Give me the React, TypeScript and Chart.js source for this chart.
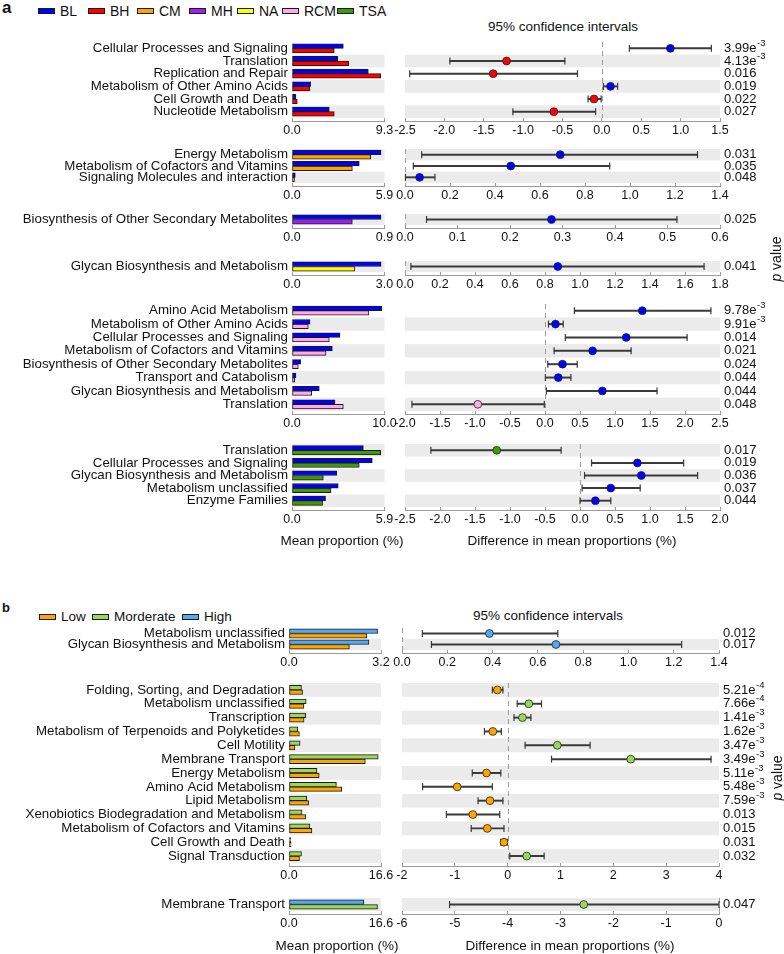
import React, { useEffect, useRef } from 'react';
import { Chart, registerables } from 'chart.js';

Chart.register(...registerables);

const FONT = '"Liberation Sans", Arial, Helvetica, sans-serif';
Chart.defaults.font.family = FONT;

// ================= Panel a =================
const A_GROUPS = ['BL', 'BH', 'CM', 'MH', 'NA', 'RCM', 'TSA'];

const A1_CATS = ['Cellular Processes and Signaling', 'Translation', 'Replication and Repair', 'Metabolism of Other Amino Acids', 'Cell Growth and Death', 'Nucleotide Metabolism'];
const A1_BL = [5.16, 4.6, 7.67, 1.88, 0.4, 3.75];
const A1_BH = [4.25, 5.7, 8.92, 1.81, 0.53, 4.25];
const A1_DIFF = [0.87, -1.21, -1.38, 0.11, -0.1, -0.61];
const A1_LO = [0.35, -1.93, -2.44, 0.02, -0.175, -1.13];
const A1_HI = [1.39, -0.47, -0.31, 0.2, -0.01, -0.08];
const A1_P = ['3.99e-3', '4.13e-3', '0.016', '0.019', '0.022', '0.027'];
const A1_BAR_TICKS = [0, 9.3];
const A1_CI_TICKS = [-2.5, -2, -1.5, -1, -0.5, 0, 0.5, 1, 1.5];

const A2_CATS = ['Energy Metabolism', 'Metabolism of Cofactors and Vitamins', 'Signaling Molecules and interaction'];
const A2_BL = [5.68, 4.29, 0.21];
const A2_CM = [5.02, 3.85, 0.16];
const A2_DIFF = [0.69, 0.47, 0.065];
const A2_LO = [0.074, 0.037, 0.002];
const A2_HI = [1.3, 0.91, 0.133];
const A2_P = ['0.031', '0.035', '0.048'];
const A2_BAR_TICKS = [0, 5.9];
const A2_CI_TICKS = [0, 0.2, 0.4, 0.6, 0.8, 1.0, 1.2, 1.4];

const A3_CATS = ['Biosynthesis of Other Secondary Metabolites'];
const A3_BL = [0.866];
const A3_MH = [0.587];
const A3_DIFF = [0.279];
const A3_LO = [0.041];
const A3_HI = [0.518];
const A3_P = ['0.025'];
const A3_BAR_TICKS = [0, 0.9];
const A3_CI_TICKS = [0, 0.1, 0.2, 0.3, 0.4, 0.5, 0.6];

const A4_CATS = ['Glycan Biosynthesis and Metabolism'];
const A4_BL = [2.89];
const A4_NA = [2.04];
const A4_DIFF = [0.873];
const A4_LO = [0.034];
const A4_HI = [1.709];
const A4_P = ['0.041'];
const A4_BAR_TICKS = [0, 3.0];
const A4_CI_TICKS = [0, 0.2, 0.4, 0.6, 0.8, 1.0, 1.2, 1.4, 1.6, 1.8];

const A5_CATS = ['Amino Acid Metabolism', 'Metabolism of Other Amino Acids', 'Cellular Processes and Signaling', 'Metabolism of Cofactors and Vitamins', 'Biosynthesis of Other Secondary Metabolites', 'Transport and Catabolism', 'Glycan Biosynthesis and Metabolism', 'Translation'];
const A5_BL = [9.7, 1.95, 5.19, 4.36, 0.94, 0.43, 2.95, 4.65];
const A5_RCM = [8.32, 1.76, 4.03, 3.68, 0.68, 0.29, 2.13, 5.55];
const A5_DIFF = [1.39, 0.15, 1.16, 0.68, 0.25, 0.19, 0.82, -0.96];
const A5_LO = [0.42, 0.05, 0.29, 0.13, 0.04, 0.005, 0.02, -1.9];
const A5_HI = [2.37, 0.26, 2.03, 1.23, 0.46, 0.37, 1.6, -0.01];
const A5_P = ['9.78e-3', '9.91e-3', '0.014', '0.021', '0.024', '0.044', '0.044', '0.048'];
const A5_BAR_TICKS = [0, 10.0];
const A5_CI_TICKS = [-2, -1.5, -1, -0.5, 0, 0.5, 1, 1.5, 2, 2.5];

const A6_CATS = ['Translation', 'Cellular Processes and Signaling', 'Glycan Biosynthesis and Metabolism', 'Metabolism unclassified', 'Enzyme Families'];
const A6_BL = [4.55, 5.12, 2.85, 2.95, 2.14];
const A6_TSA = [5.66, 4.29, 2.0, 2.49, 1.95];
const A6_DIFF = [-1.19, 0.82, 0.876, 0.44, 0.22];
const A6_LO = [-2.13, 0.165, 0.065, 0.03, 0.0];
const A6_HI = [-0.27, 1.48, 1.68, 0.86, 0.44];
const A6_P = ['0.017', '0.019', '0.036', '0.037', '0.044'];
const A6_BAR_TICKS = [0, 5.9];
const A6_CI_TICKS = [-2.5, -2, -1.5, -1, -0.5, 0, 0.5, 1, 1.5, 2];

// ================= Panel b =================
const B_GROUPS = ['Low', 'Morderate', 'High'];

const B1_CATS = ['Metabolism unclassified', 'Glycan Biosynthesis and Metabolism'];
const B1_HIGH = [3.08, 2.78];
const B1_LOW = [2.7, 2.1];
const B1_DIFF = [0.386, 0.68];
const B1_LO = [0.09, 0.13];
const B1_HI = [0.688, 1.235];
const B1_P = ['0.012', '0.017'];
const B1_BAR_TICKS = [0, 3.2];
const B1_CI_TICKS = [0, 0.2, 0.4, 0.6, 0.8, 1.0, 1.2, 1.4];

const B2_CATS = ['Folding, Sorting, and Degradation', 'Metabolism unclassified', 'Transcription', 'Metabolism of Terpenoids and Polyketides', 'Cell Motility', 'Membrane Transport', 'Energy Metabolism', 'Amino Acid Metabolism', 'Lipid Metabolism', 'Xenobiotics Biodegradation and Metabolism', 'Metabolism of Cofactors and Vitamins', 'Cell Growth and Death', 'Signal Transduction'];
const B2_MOD = [2.25, 3.1, 3.0, 1.6, 2.0, 16.1, 5.05, 8.55, 3.2, 2.35, 3.75, 0.3, 2.25];
const B2_LOW = [2.45, 2.7, 2.72, 1.88, 1.06, 13.77, 5.45, 9.5, 3.54, 3.0, 4.13, 0.37, 1.89];
const B2_DIFF = [-0.195, 0.4, 0.28, -0.28, 0.94, 2.33, -0.4, -0.955, -0.335, -0.66, -0.385, -0.07, 0.36];
const B2_LO = [-0.29, 0.18, 0.12, -0.44, 0.33, 0.83, -0.67, -1.61, -0.56, -1.16, -0.69, -0.13, 0.04];
const B2_HI = [-0.09, 0.64, 0.44, -0.12, 1.56, 3.85, -0.13, -0.29, -0.09, -0.15, -0.07, -0.005, 0.69];
const B2_P = ['5.21e-4', '7.66e-4', '1.41e-3', '1.62e-3', '3.47e-3', '3.49e-3', '5.11e-3', '5.48e-3', '7.59e-3', '0.013', '0.015', '0.031', '0.032'];
const B2_BAR_TICKS = [0, 16.6];
const B2_CI_TICKS = [-2, -1, 0, 1, 2, 3, 4];

const B3_CATS = ['Membrane Transport'];
const B3_HIGH = [13.53];
const B3_MOD = [15.97];
const B3_DIFF = [-2.56];
const B3_LO = [-5.1];
const B3_HI = [0.0];
const B3_P = ['0.047'];
const B3_BAR_TICKS = [0, 16.6];
const B3_CI_TICKS = [-6, -5, -4, -3, -2, -1, 0];

// ================= styling =================
const COLORS: Record<string, string> = {
  BL: '#0000FF', BH: '#FF0000', CM: '#FFA500', MH: '#A020F0', NA: '#FFFF00', RCM: '#FFAAE6', TSA: '#3F9A05',
  Low: '#FFA500', Morderate: '#9AD85C', High: '#55A8F2',
};
const TEXT = '#111111';
const STRIPE = '#ebebeb';
const AXIS = '#9a9a9a';
const TICK_FONT = { family: FONT, size: 12.5 };
const LABEL_FONT = { family: FONT, size: 13.3 };
const PAD_T = 14;
const AXIS_H = 26;
const TICK_LEN = 4;
const BAR_W = 400;
const CI_X = 382;
const CI_W = 784 - CI_X;

const PANEL_BOX: Record<string, any> = {
  a: { barL: 292, barR: 384.5, ciL: 405, ciR: 720 },
  b: { barL: 289, barR: 381, ciL: 402, ciR: 719 },
};

// group table (built from the arrays above)
const GROUPS = [
  { id: 'a1', panel: 'a', cats: A1_CATS, g1: 'BL', g2: 'BH', v1: A1_BL, v2: A1_BH, diff: A1_DIFF, lo: A1_LO, hi: A1_HI, p: A1_P, barTicks: A1_BAR_TICKS, ciTicks: A1_CI_TICKS, dec: 1 },
  { id: 'a2', panel: 'a', cats: A2_CATS, g1: 'BL', g2: 'CM', v1: A2_BL, v2: A2_CM, diff: A2_DIFF, lo: A2_LO, hi: A2_HI, p: A2_P, barTicks: A2_BAR_TICKS, ciTicks: A2_CI_TICKS, dec: 1 },
  { id: 'a3', panel: 'a', cats: A3_CATS, g1: 'BL', g2: 'MH', v1: A3_BL, v2: A3_MH, diff: A3_DIFF, lo: A3_LO, hi: A3_HI, p: A3_P, barTicks: A3_BAR_TICKS, ciTicks: A3_CI_TICKS, dec: 1 },
  { id: 'a4', panel: 'a', cats: A4_CATS, g1: 'BL', g2: 'NA', v1: A4_BL, v2: A4_NA, diff: A4_DIFF, lo: A4_LO, hi: A4_HI, p: A4_P, barTicks: A4_BAR_TICKS, ciTicks: A4_CI_TICKS, dec: 1 },
  { id: 'a5', panel: 'a', cats: A5_CATS, g1: 'BL', g2: 'RCM', v1: A5_BL, v2: A5_RCM, diff: A5_DIFF, lo: A5_LO, hi: A5_HI, p: A5_P, barTicks: A5_BAR_TICKS, ciTicks: A5_CI_TICKS, dec: 1 },
  { id: 'a6', panel: 'a', cats: A6_CATS, g1: 'BL', g2: 'TSA', v1: A6_BL, v2: A6_TSA, diff: A6_DIFF, lo: A6_LO, hi: A6_HI, p: A6_P, barTicks: A6_BAR_TICKS, ciTicks: A6_CI_TICKS, dec: 1 },
  { id: 'b1', panel: 'b', cats: B1_CATS, g1: 'High', g2: 'Low', v1: B1_HIGH, v2: B1_LOW, diff: B1_DIFF, lo: B1_LO, hi: B1_HI, p: B1_P, barTicks: B1_BAR_TICKS, ciTicks: B1_CI_TICKS, dec: 1 },
  { id: 'b2', panel: 'b', cats: B2_CATS, g1: 'Morderate', g2: 'Low', v1: B2_MOD, v2: B2_LOW, diff: B2_DIFF, lo: B2_LO, hi: B2_HI, p: B2_P, barTicks: B2_BAR_TICKS, ciTicks: B2_CI_TICKS, dec: 0 },
  { id: 'b3', panel: 'b', cats: B3_CATS, g1: 'High', g2: 'Morderate', v1: B3_HIGH, v2: B3_MOD, diff: B3_DIFF, lo: B3_LO, hi: B3_HI, p: B3_P, barTicks: B3_BAR_TICKS, ciTicks: B3_CI_TICKS, dec: 0 },
];

// vertical placement of each group's plotting area [top, bottom]
const PLACE: Record<string, number[]> = {
  a1: [42, 118], a2: [149, 183], a3: [214, 225], a4: [261, 272], a5: [304, 411], a6: [444, 507],
  b1: [628, 650], b2: [683, 863], b3: [898, 911],
};

// ================= plugins =================
const stripes = {
  id: 'stripes',
  beforeDraw(chart: any) {
    const { ctx, chartArea: a } = chart;
    const ys = chart.scales.y;
    const n = chart.data.labels.length;
    const h = (a.bottom - a.top) / n;
    ctx.save();
    ctx.fillStyle = STRIPE;
    for (let i = 0; i < n; i++) {
      if ((n - 1 - i) % 2 === 0) {
        const c = ys.getPixelForValue(i);
        ctx.fillRect(a.left, c - h / 2, a.right - a.left, h);
      }
    }
    ctx.restore();
  },
};

const axisLine = {
  id: 'axisLine',
  afterDraw(chart: any) {
    const { ctx, chartArea: a } = chart;
    const xs = chart.scales.x;
    const y = Math.round(xs.top + TICK_LEN) - 0.5;
    ctx.save();
    ctx.strokeStyle = AXIS;
    ctx.lineWidth = 1;
    ctx.beginPath();
    ctx.moveTo(a.left, y);
    ctx.lineTo(a.right, y);
    ctx.stroke();
    ctx.restore();
  },
};

const zeroLine = {
  id: 'zeroLine',
  beforeDatasetsDraw(chart: any) {
    const { ctx, chartArea: a } = chart;
    const xs = chart.scales.x;
    if (xs.min > 0 || xs.max < 0) return;
    const px = Math.round(xs.getPixelForValue(0)) + 0.5;
    ctx.save();
    ctx.strokeStyle = '#9c9c9c';
    ctx.lineWidth = 1;
    ctx.setLineDash([5, 4]);
    ctx.beginPath();
    ctx.moveTo(px, a.top);
    ctx.lineTo(px, a.bottom);
    ctx.stroke();
    ctx.restore();
  },
};

function pvalPlugin(labels: string[]) {
  return {
    id: 'pvals',
    afterDraw(chart: any) {
      const { ctx, chartArea: a } = chart;
      const ys = chart.scales.y;
      ctx.save();
      ctx.fillStyle = TEXT;
      ctx.textBaseline = 'middle';
      ctx.textAlign = 'left';
      labels.forEach((s, i) => {
        const y = ys.getPixelForValue(i);
        const x = a.right + 4;
        const m = /^(.*e)(-?\d+)$/.exec(s);
        ctx.font = `13px ${FONT}`;
        if (m) {
          ctx.fillText(m[1], x, y);
          const w = ctx.measureText(m[1]).width;
          ctx.font = `9.5px ${FONT}`;
          ctx.fillText(m[2], x + w + 0.5, y - 5);
        } else {
          ctx.fillText(s, x, y);
        }
      });
      ctx.restore();
    },
  };
}

function xAxis(ticksArr: number[], dec: number) {
  return {
    type: 'linear',
    min: ticksArr[0],
    max: ticksArr[ticksArr.length - 1],
    afterBuildTicks: (s: any) => {
      s.ticks = ticksArr.map((v) => ({ value: v }));
    },
    afterFit: (s: any) => {
      s.height = AXIS_H;
    },
    ticks: {
      callback: (v: any) => Number(v).toFixed(dec),
      padding: 1,
      maxRotation: 0,
      minRotation: 0,
      autoSkip: false,
      color: TEXT,
      font: TICK_FONT,
    },
    grid: { drawOnChartArea: false, drawTicks: true, tickLength: TICK_LEN, color: AXIS },
    border: { display: false },
  };
}

function makeBar(canvas: HTMLCanvasElement, g: any) {
  const box = PANEL_BOX[g.panel];
  const barStyle = { borderColor: '#1a1a1a', borderWidth: 1, borderSkipped: false, barThickness: 4.6 };
  return new Chart(canvas, {
    type: 'bar',
    data: {
      labels: g.cats,
      datasets: [
        { data: g.v1, backgroundColor: COLORS[g.g1], ...barStyle },
        { data: g.v2, backgroundColor: COLORS[g.g2], ...barStyle },
      ],
    },
    options: {
      indexAxis: 'y',
      animation: false,
      responsive: false,
      events: [],
      layout: { padding: { left: 0, right: BAR_W - box.barR, top: PAD_T, bottom: 0 } },
      plugins: { legend: { display: false }, tooltip: { enabled: false } },
      scales: {
        x: xAxis(g.barTicks, 1),
        y: {
          type: 'category',
          offset: true,
          afterFit: (s: any) => {
            s.width = box.barL;
          },
          ticks: { autoSkip: false, padding: 4, color: TEXT, font: LABEL_FONT },
          grid: { display: false, drawTicks: false },
          border: { display: false },
        },
      },
    } as any,
    plugins: [stripes, axisLine],
  } as any);
}

function makeCI(canvas: HTMLCanvasElement, g: any) {
  const box = PANEL_BOX[g.panel];
  const ptColors = g.diff.map((d: number) => COLORS[d >= 0 ? g.g1 : g.g2]);
  const caps = [
    ...g.lo.map((v: number, i: number) => ({ x: v, y: g.cats[i] })),
    ...g.hi.map((v: number, i: number) => ({ x: v, y: g.cats[i] })),
  ];
  return new Chart(canvas, {
    type: 'bar',
    data: {
      labels: g.cats,
      datasets: [
        {
          type: 'scatter',
          data: g.diff.map((d: number, i: number) => ({ x: d, y: g.cats[i] })),
          pointRadius: 3.9,
          pointBackgroundColor: ptColors,
          pointBorderColor: '#222',
          pointBorderWidth: 0.8,
          order: 0,
          clip: false,
        },
        {
          type: 'scatter',
          data: caps,
          pointStyle: 'line',
          pointRotation: 90,
          pointRadius: 3.5,
          pointBorderColor: '#3a3a3a',
          pointBorderWidth: 1.2,
          order: 1,
          clip: false,
        },
        {
          type: 'bar',
          data: g.lo.map((l: number, i: number) => [l, g.hi[i]]),
          backgroundColor: '#3a3a3a',
          borderWidth: 0,
          barThickness: 1.3,
          order: 2,
        },
      ],
    },
    options: {
      indexAxis: 'y',
      animation: false,
      responsive: false,
      events: [],
      layout: { padding: { left: box.ciL - CI_X, right: CI_X + CI_W - box.ciR, top: PAD_T, bottom: 0 } },
      plugins: { legend: { display: false }, tooltip: { enabled: false } },
      scales: {
        x: xAxis(g.ciTicks, g.dec),
        y: { type: 'category', display: false, offset: true },
      },
    } as any,
    plugins: [stripes, zeroLine, axisLine, pvalPlugin(g.p)],
  } as any);
}

function GroupPlot({ g }: { g: any }) {
  const barRef = useRef<HTMLCanvasElement>(null);
  const ciRef = useRef<HTMLCanvasElement>(null);
  const [t, b] = PLACE[g.id];
  const top = t - PAD_T;
  const h = b - t + PAD_T + AXIS_H;
  useEffect(() => {
    const c1 = makeBar(barRef.current as HTMLCanvasElement, g);
    const c2 = makeCI(ciRef.current as HTMLCanvasElement, g);
    return () => {
      c1.destroy();
      c2.destroy();
    };
  }, [g]);
  return (
    <>
      <canvas ref={barRef} width={BAR_W} height={h} style={{ position: 'absolute', left: 0, top, width: BAR_W, height: h }} />
      <canvas ref={ciRef} width={CI_W} height={h} style={{ position: 'absolute', left: CI_X, top, width: CI_W, height: h }} />
    </>
  );
}

const txt = (extra: any) => ({
  position: 'absolute' as const,
  fontFamily: FONT,
  color: TEXT,
  whiteSpace: 'nowrap' as const,
  lineHeight: 1,
  ...extra,
});

const centered = (cx: number, cy: number, size: number, extra: any = {}) =>
  txt({ left: cx, top: cy, fontSize: size, transform: 'translate(-50%, -50%)', ...extra });

function Legend({ names, xs, cy, size }: { names: string[]; xs: number[]; cy: number; size: number }) {
  return (
    <>
      {names.map((n, i) => (
        <React.Fragment key={n}>
          <div
            style={{
              position: 'absolute',
              left: xs[i],
              top: cy - 3,
              width: 17,
              height: 6,
              boxSizing: 'border-box',
              border: '1px solid #1a1a1a',
              background: COLORS[n],
            }}
          />
          <div style={txt({ left: xs[i] + 22, top: cy, fontSize: size, transform: 'translateY(-50%)' })}>{n}</div>
        </React.Fragment>
      ))}
    </>
  );
}

export default function App() {
  return (
    <div style={{ position: 'absolute', left: 0, top: 0, width: 784, height: 954, background: '#fff', overflow: 'hidden' }}>
      <div style={txt({ left: 2, top: -1, fontSize: 17, fontWeight: 'bold' })}>a</div>
      <Legend names={A_GROUPS} xs={[38, 88, 137, 189, 237, 282, 337]} cy={10.5} size={14} />
      <div style={centered(563, 27, 13.5)}>95% confidence intervals</div>

      <div style={txt({ left: 2, top: 601, fontSize: 13, fontWeight: 'bold' })}>b</div>
      <Legend names={B_GROUPS} xs={[39, 92, 182]} cy={617} size={13.5} />
      <div style={centered(548, 616, 13.5)}>95% confidence intervals</div>

      {GROUPS.map((g) => (
        <GroupPlot key={g.id} g={g} />
      ))}

      <div style={centered(776, 259, 14, { transform: 'translate(-50%, -50%) rotate(-90deg)' })}>
        <i>p</i> value
      </div>
      <div style={centered(777, 778, 14, { transform: 'translate(-50%, -50%) rotate(-90deg)' })}>
        <i>p</i> value
      </div>

      <div style={centered(342, 541, 13.5)}>Mean proportion (%)</div>
      <div style={centered(572, 541, 13.5)}>Difference in mean proportions (%)</div>
      <div style={centered(337, 946, 13.5)}>Mean proportion (%)</div>
      <div style={centered(570, 946, 13.5)}>Difference in mean proportions (%)</div>
    </div>
  );
}
